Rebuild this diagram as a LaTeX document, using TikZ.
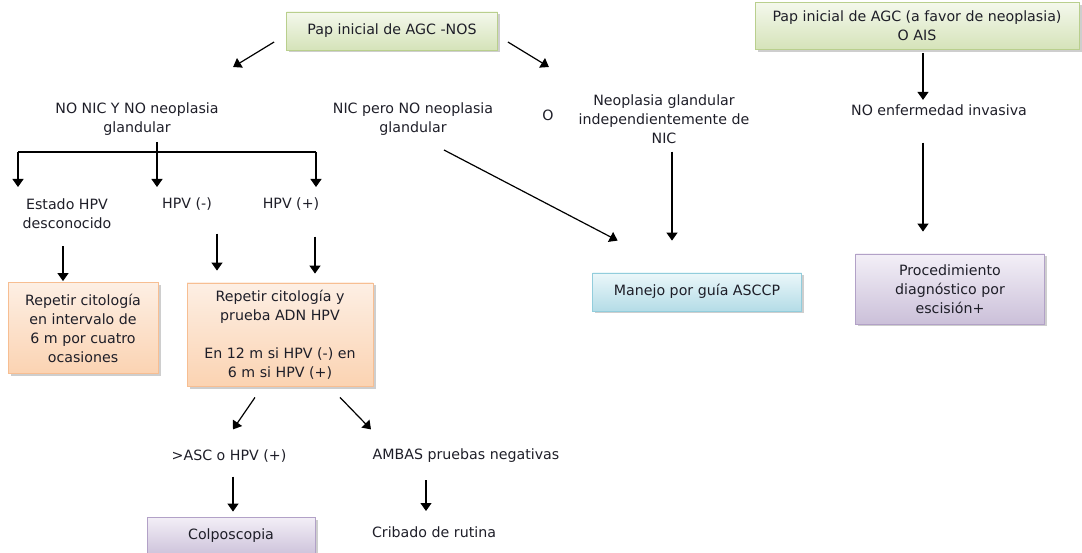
\documentclass[tikz,border=0pt]{standalone}
\usepackage{fontspec}
\setmainfont{DejaVu Sans}
\usetikzlibrary{arrows.meta,calc,shadows}

\definecolor{grnTop}{HTML}{F4F8EC}
\definecolor{grnBot}{HTML}{D5E3B9}
\definecolor{grnBd}{HTML}{B9CF8D}
\definecolor{orgTop}{HTML}{FDEFE4}
\definecolor{orgBot}{HTML}{FBD3B2}
\definecolor{orgBd}{HTML}{F7BE92}
\definecolor{bluTop}{HTML}{EBF7FA}
\definecolor{bluBot}{HTML}{B4DCE7}
\definecolor{bluBd}{HTML}{92CDDC}
\definecolor{purTop}{HTML}{F3EFF7}
\definecolor{purBot}{HTML}{CBC0D9}
\definecolor{purBd}{HTML}{B2A1C7}
\definecolor{inkText}{HTML}{1E1E28}

\newcommand{\flowfont}{\fontsize{14.2}{19}\selectfont}

\begin{document}
\begin{tikzpicture}[x=1pt,y=-1pt,
  box/.style={draw, line width=0.8pt, align=center, inner sep=0pt,
    font=\flowfont, text=inkText,
    drop shadow={shadow xshift=2.5pt, shadow yshift=-2.5pt, opacity=.35, fill=black!55}},
  greenbox/.style={box, draw=grnBd, top color=grnTop, bottom color=grnBot},
  orangebox/.style={box, draw=orgBd, top color=orgTop, bottom color=orgBot},
  bluebox/.style={box, draw=bluBd, top color=bluTop, bottom color=bluBot},
  purplebox/.style={box, draw=purBd, top color=purTop, bottom color=purBot},
  lbl/.style={align=center, inner sep=0pt, font=\flowfont, text=inkText},
  arr/.style={line width=1.2pt, -{Triangle[length=8pt,width=11pt]}},
  bus/.style={line width=1.2pt}
]
\useasboundingbox (0,0) rectangle (1082,553);

% ---- boxes ----
\node[greenbox, minimum width=211pt, minimum height=38pt] (p1) at (392,31)
  {Pap inicial de AGC -NOS};
\node[greenbox, minimum width=324pt, minimum height=47pt] (p2) at (917,26)
  {Pap inicial de AGC (a favor de neoplasia)\\O AIS};
\node[orangebox, minimum width=150pt, minimum height=91pt] (r1) at (83,328)
  {Repetir citología\\en intervalo de\\6 m por cuatro\\ocasiones};
\node[orangebox, minimum width=186pt, minimum height=103pt] (r2) at (280,334.5)
  {Repetir citología y\\prueba ADN HPV\\[19pt]En 12 m si HPV (-) en\\6 m si HPV (+)};
\node[bluebox, minimum width=209pt, minimum height=38pt] (manejo) at (697,292)
  {\raisebox{4pt}{Manejo por guía ASCCP}};
\node[purplebox, minimum width=189pt, minimum height=70pt] (proc) at (950,289)
  {Procedimiento\\diagnóstico por\\escisión+};
\node[purplebox, minimum width=168pt, minimum height=40pt] (colpo) at (231,537)
  {\raisebox{5pt}{Colposcopia}};

% ---- plain labels ----
\node[lbl] (nonic)   at (137,119) {NO NIC Y NO neoplasia\\glandular};
\node[lbl] (nicpero) at (413,119) {NIC pero NO neoplasia\\glandular};
\node[lbl] (o)       at (548,115) {O};
\node[lbl] (neo)     at (664,119) {Neoplasia glandular\\independientemente de\\NIC};
\node[lbl] (noenf)   at (939,110) {NO enfermedad invasiva};
\node[lbl] (estado)  at (67,214)  {Estado HPV\\desconocido};
\node[lbl] (hpvn)    at (187,204) {HPV (-)};
\node[lbl] (hpvp)    at (291,204) {HPV (+)};
\node[lbl] (asc)     at (229,456) {>ASC o HPV (+)};
\node[lbl] (ambas)   at (466,456) {AMBAS pruebas negativas};
\node[lbl] (cribado) at (434,532) {Cribado de rutina};

% ---- connectors ----
\draw[arr] ($(p1.west)+(-12,11)$) -- ($(p1.west)+(-53,36)$);
\draw[arr] ($(p1.east)+(10,11)$) -- ($(p1.east)+(51,36)$);
\draw[arr] ($(p2.south)+(6,3)$) -- ($(p2.south)+(6,50)$);
\draw[arr] ($(proc.north)+(-27,-111)$) -- ($(proc.north)+(-27,-22)$);
\draw[arr] ($(nicpero.center)+(31,31)$) -- ($(manejo.north west)+(25.5,-32)$);
\draw[arr] ($(manejo.north)+(-25,-121)$) -- ($(manejo.north)+(-25,-32)$);

% split under the first label
\coordinate (busL) at ($(nonic.center)+(-119,33)$);
\coordinate (busM) at ($(nonic.center)+(20,33)$);
\coordinate (busR) at ($(nonic.center)+(179,33)$);
\draw[bus] (busL) -- (busR);
\draw[arr] ($(busM)+(0,-10)$) -- ($(busM)+(0,35)$);
\draw[arr] (busL) -- ($(busL)+(0,35)$);
\draw[arr] (busR) -- ($(busR)+(0,35)$);

\draw[arr] ($(r1.north)+(-20,-36)$) -- ($(r1.north)+(-20,-1)$);
\draw[arr] ($(r2.north)+(-63,-49)$) -- ($(r2.north)+(-63,-12)$);
\draw[arr] ($(r2.north)+(35,-46)$) -- ($(r2.north)+(35,-9)$);
\draw[arr] ($(r2.south)+(-25,11)$) -- ($(r2.south)+(-47,43)$);
\draw[arr] ($(r2.south)+(60,11)$) -- ($(r2.south)+(91,43)$);
\draw[arr] ($(colpo.north)+(2,-40)$) -- ($(colpo.north)+(2,-5)$);
\draw[arr] ($(cribado.center)+(-8,-52)$) -- ($(cribado.center)+(-8,-21)$);
\end{tikzpicture}
\end{document}
